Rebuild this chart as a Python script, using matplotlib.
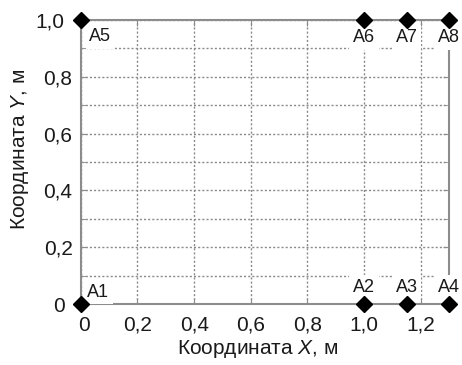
import matplotlib
matplotlib.use("Agg")
import matplotlib.pyplot as plt
from matplotlib.ticker import MultipleLocator, FixedLocator, FuncFormatter
from matplotlib.transforms import ScaledTranslation

plt.rcParams['font.family'] = ['Liberation Sans', 'DejaVu Sans']
plt.rcParams['mathtext.fontset'] = 'custom'
plt.rcParams['mathtext.it'] = 'Liberation Sans:italic'
plt.rcParams['mathtext.rm'] = 'Liberation Sans'

# Data
names = ['A1', 'A2', 'A3', 'A4', 'A5', 'A6', 'A7', 'A8']
xs = [0.0, 1.0, 1.15, 1.3, 0.0, 1.0, 1.15, 1.3]
ys = [0.0, 0.0, 0.0, 0.0, 1.0, 1.0, 1.0, 1.0]
x_ticks = [0, 0.2, 0.4, 0.6, 0.8, 1.0, 1.2]
y_ticks = [0, 0.2, 0.4, 0.6, 0.8, 1.0]

fig = plt.figure(figsize=(4.62, 3.65), dpi=100)
ax = fig.add_axes([0.175, 0.167, 0.797, 0.778])
ax.set_xlim(0, 1.3)
ax.set_ylim(0, 1.0)

def fmt(v, pos):
    if abs(v) < 1e-9:
        return '0'
    return ('%.1f' % v).replace('.', ',')

ax.xaxis.set_major_locator(FixedLocator(x_ticks))
ax.yaxis.set_major_locator(FixedLocator(y_ticks))
ax.yaxis.set_minor_locator(MultipleLocator(0.1))
ax.xaxis.set_major_formatter(FuncFormatter(fmt))
ax.yaxis.set_major_formatter(FuncFormatter(fmt))

gc = '#8a8a8a'
ax.grid(True, which='major', axis='x', color=gc, linestyle=(0, (1.5, 1.5)), linewidth=1)
ax.grid(True, which='both', axis='y', color=gc, linestyle=(0, (1.5, 1.5)), linewidth=1)

for s in ax.spines.values():
    s.set_color('#8c8c8c')
    s.set_linewidth(1.5)

tc = '#1a1a1a'
ax.tick_params(which='both', direction='in', color='#8c8c8c', length=4,
               top=True, right=True, labelsize=15, labelcolor=tc)
ax.tick_params(axis='x', pad=8.5)
ax.tick_params(axis='y', pad=6)

ax.plot(xs, ys, linestyle='none', marker='D', markersize=8.5, color='black',
        clip_on=False, zorder=5)

for n, x, y in zip(names, xs, ys):
    if y == 1.0:
        if x == 0:
            off, ha, va = (6, -6), 'left', 'top'
        else:
            off, ha, va = (0, -6.5), 'center', 'top'
    else:
        if x == 0:
            off, ha, va = (4.5, 2.5), 'left', 'bottom'
        else:
            off, ha, va = (0, 6), 'center', 'bottom'
    ax.annotate(n, (x, y), xytext=off, textcoords='offset points', ha=ha, va=va,
                fontsize=13, color=tc, zorder=4, annotation_clip=False,
                bbox=dict(boxstyle='square,pad=0.2', fc='white', ec='none'))

ax.set_xlabel('Координата $\\it{X}$, м', fontsize=15, color=tc)
ax.set_ylabel('Координата $\\it{Y}$, м', fontsize=15, color=tc)
ax.xaxis.set_label_coords(0.48, -0.12)
ax.yaxis.set_label_coords(-0.136, 0.546)

fig.canvas.draw()
yt = ax.yaxis.get_major_ticks()
for i in (0, len(y_ticks) - 1):
    lab = yt[i].label1
    lab.set_transform(lab.get_transform() + ScaledTranslation(-8 / 100, 0, fig.dpi_scale_trans))
xt = ax.xaxis.get_major_ticks()
lab = xt[0].label1
lab.set_transform(lab.get_transform() + ScaledTranslation(3 / 100, 0, fig.dpi_scale_trans))

fig.savefig('out.png', dpi=100)
